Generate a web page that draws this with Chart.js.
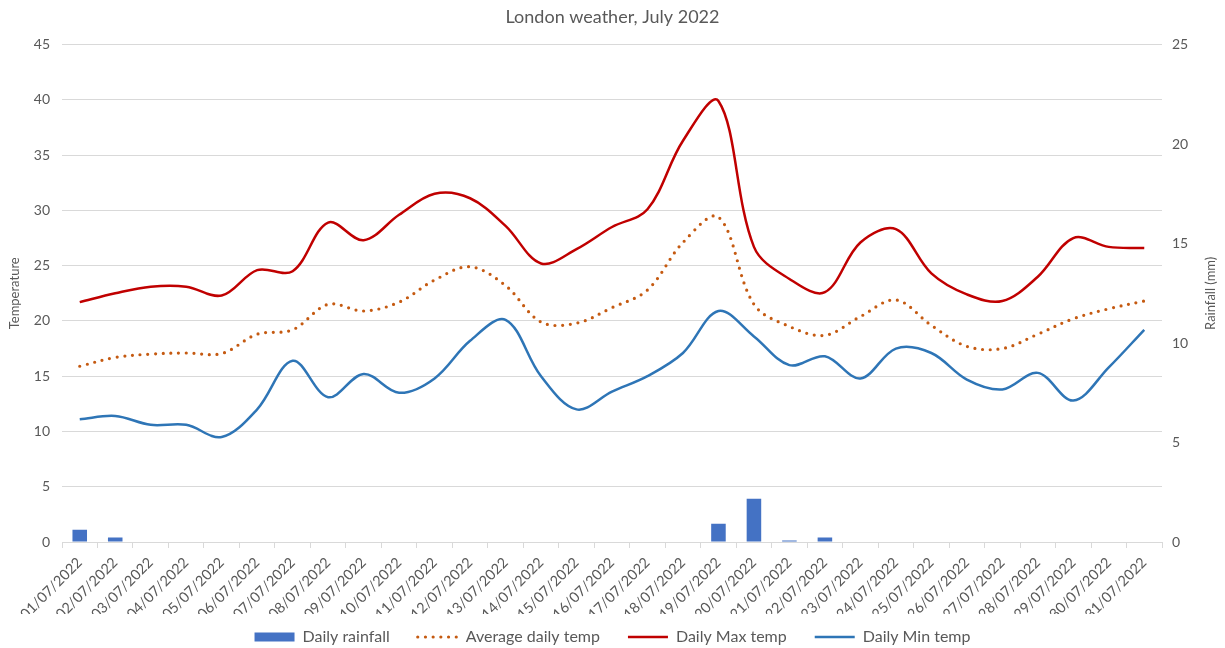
<!DOCTYPE html>
<html>
<head>
<meta charset="utf-8">
<title>London weather, July 2022</title>
<script src="https://cdn.jsdelivr.net/npm/chart.js@4.4.0/dist/chart.umd.min.js"></script>
<style>
  html, body { margin: 0; padding: 0; background: #fff; }
  #wrap { width: 1225px; height: 648px; position: relative; }
</style>
</head>
<body>
<div id="wrap"><canvas id="weather"></canvas></div>
<script>
// Data
const dates = [
  "01/07/2022", "02/07/2022", "03/07/2022", "04/07/2022", "05/07/2022", "06/07/2022",
  "07/07/2022", "08/07/2022", "09/07/2022", "10/07/2022", "11/07/2022", "12/07/2022",
  "13/07/2022", "14/07/2022", "15/07/2022", "16/07/2022", "17/07/2022", "18/07/2022",
  "19/07/2022", "20/07/2022", "21/07/2022", "22/07/2022", "23/07/2022", "24/07/2022",
  "25/07/2022", "26/07/2022", "27/07/2022", "28/07/2022", "29/07/2022", "30/07/2022",
  "31/07/2022",
];
const rainfall = [0.62, 0.22, 0, 0, 0, 0, 0, 0, 0, 0, 0, 0, 0, 0, 0, 0, 0, 0, 0.92, 2.18, 0.07, 0.22, 0, 0, 0, 0, 0, 0, 0, 0, 0];
const avgTemp = [15.9, 16.7, 17.0, 17.1, 17.05, 18.8, 19.2, 21.5, 20.9, 21.7, 23.7, 24.9, 23.2, 19.9, 19.8, 21.2, 22.8, 27.1, 29.4, 21.5, 19.5, 18.7, 20.4, 21.9, 19.6, 17.7, 17.5, 18.8, 20.2, 21.1, 21.8];
const maxTemp = [21.7, 22.5, 23.1, 23.1, 22.3, 24.6, 24.5, 28.9, 27.3, 29.6, 31.5, 31.1, 28.6, 25.2, 26.5, 28.5, 30.1, 36.3, 39.9, 26.7, 23.8, 22.6, 27.1, 28.3, 24.3, 22.4, 21.8, 24.0, 27.5, 26.7, 26.6];
const minTemp = [11.1, 11.4, 10.6, 10.6, 9.5, 12.0, 16.4, 13.1, 15.2, 13.5, 14.8, 18.2, 20.1, 15.0, 12.0, 13.6, 15.0, 17.1, 20.9, 18.6, 16.0, 16.8, 14.8, 17.5, 17.1, 14.7, 13.8, 15.3, 12.8, 15.8, 19.2];
const tempTicks = [0, 5, 10, 15, 20, 25, 30, 35, 40, 45];
const rainTicks = [0, 5, 10, 15, 20, 25];

const grey = "#595959";
const gridGrey = "#d9d9d9";
const font = "Lato";

// right axis title reads bottom-to-top like the left one
const rightTitle = {
  id: "rightTitle",
  afterDraw(chart) {
    const s = chart.scales.rain;
    const ca = chart.chartArea;
    const c = chart.ctx;
    c.save();
    c.translate(s.right - 14, (ca.top + ca.bottom) / 2);
    c.rotate(-Math.PI / 2);
    c.font = "13px " + font;
    c.fillStyle = grey;
    c.textAlign = "center";
    c.textBaseline = "middle";
    c.fillText("Rainfall (mm)", 0, 0);
    c.restore();
  },
};

// legend: short box so the rotated date labels get room, then lift the row
const legendNudge = {
  id: "legendNudge",
  afterInit(chart) {
    const lg = chart.legend;
    const fit = lg.fit;
    lg.fit = function () {
      fit.call(this);
      this.height = 34;
    };
  },
  beforeDraw(chart) {
    chart.legend.top -= 13;
  },
};

// legend markers: keep the dataset's dash / width
function legendLabels(chart) {
  const items = Chart.defaults.plugins.legend.labels.generateLabels(chart);
  items.forEach((it) => {
    const ds = chart.data.datasets[it.datasetIndex];
    it.fillStyle = ds.backgroundColor;
    it.strokeStyle = ds.borderColor || ds.backgroundColor;
    it.lineWidth = ds.type === "line" ? ds.borderWidth : 0;
    it.lineDash = ds.borderDash || [];
    it.lineCap = ds.borderCapStyle || "butt";
  });
  return items;
}

const ctx = document.getElementById("weather").getContext("2d");
new Chart(ctx, {
  type: "bar",
  data: {
    labels: dates,
    datasets: [
      {
        type: "bar",
        label: "Daily rainfall",
        data: rainfall,
        yAxisID: "rain",
        backgroundColor: "#4472c4",
        borderWidth: 0,
        barPercentage: 0.41,
        categoryPercentage: 1.0,
        pointStyle: "rect",
      },
      {
        type: "line",
        label: "Average daily temp",
        data: avgTemp,
        yAxisID: "temp",
        borderColor: "#c55a11",
        backgroundColor: "#c55a11",
        borderWidth: 3.2,
        borderDash: [0, 7.7],
        borderCapStyle: "round",
        pointRadius: 0,
        tension: 0.35,
        pointStyle: "line",
      },
      {
        type: "line",
        label: "Daily Max temp",
        data: maxTemp,
        yAxisID: "temp",
        borderColor: "#c00000",
        backgroundColor: "#c00000",
        borderWidth: 2.5,
        pointRadius: 0,
        tension: 0.35,
        pointStyle: "line",
      },
      {
        type: "line",
        label: "Daily Min temp",
        data: minTemp,
        yAxisID: "temp",
        borderColor: "#2e75b6",
        backgroundColor: "#2e75b6",
        borderWidth: 2.5,
        pointRadius: 0,
        tension: 0.35,
        pointStyle: "line",
      },
    ],
  },
  options: {
    responsive: true,
    maintainAspectRatio: false,
    animation: false,
    layout: { padding: 0 },
    plugins: {
      title: {
        display: true,
        text: "London weather, July 2022",
        color: grey,
        font: { family: font, size: 18, weight: "normal" },
        padding: { top: 6, bottom: 17 },
      },
      legend: {
        position: "bottom",
        labels: {
          usePointStyle: true,
          pointStyleWidth: 40,
          boxHeight: 9,
          padding: 28,
          color: grey,
          font: { family: font, size: 16 },
          generateLabels: legendLabels,
        },
      },
      tooltip: { enabled: false },
    },
    scales: {
      x: {
        offset: true,
        grid: { display: true, drawOnChartArea: false, offset: true, tickLength: 6, color: gridGrey },
        border: { display: true, color: gridGrey },
        ticks: { color: grey, padding: 6, font: { family: font, size: 14.5 }, autoSkip: false, maxRotation: 45, minRotation: 45 },
        afterFit: (s) => { s.height = 72; },
      },
      temp: {
        position: "left",
        min: tempTicks[0],
        max: tempTicks[tempTicks.length - 1],
        ticks: { stepSize: tempTicks[1] - tempTicks[0], color: grey, padding: 12, font: { family: font, size: 14 } },
        grid: { color: gridGrey, drawTicks: false },
        border: { display: false },
        title: { display: true, text: "Temperature", color: grey, font: { family: font, size: 13 }, padding: { top: 7, bottom: 0 } },
        afterFit: (s) => { s.width = 62; },
      },
      rain: {
        position: "right",
        min: rainTicks[0],
        max: rainTicks[rainTicks.length - 1],
        ticks: { stepSize: rainTicks[1] - rainTicks[0], color: grey, padding: 10, font: { family: font, size: 14 } },
        grid: { drawOnChartArea: false, drawTicks: false },
        border: { display: false },
        afterFit: (s) => { s.width = 63; },
      },
    },
  },
  plugins: [rightTitle, legendNudge],
});
</script>
</body>
</html>
